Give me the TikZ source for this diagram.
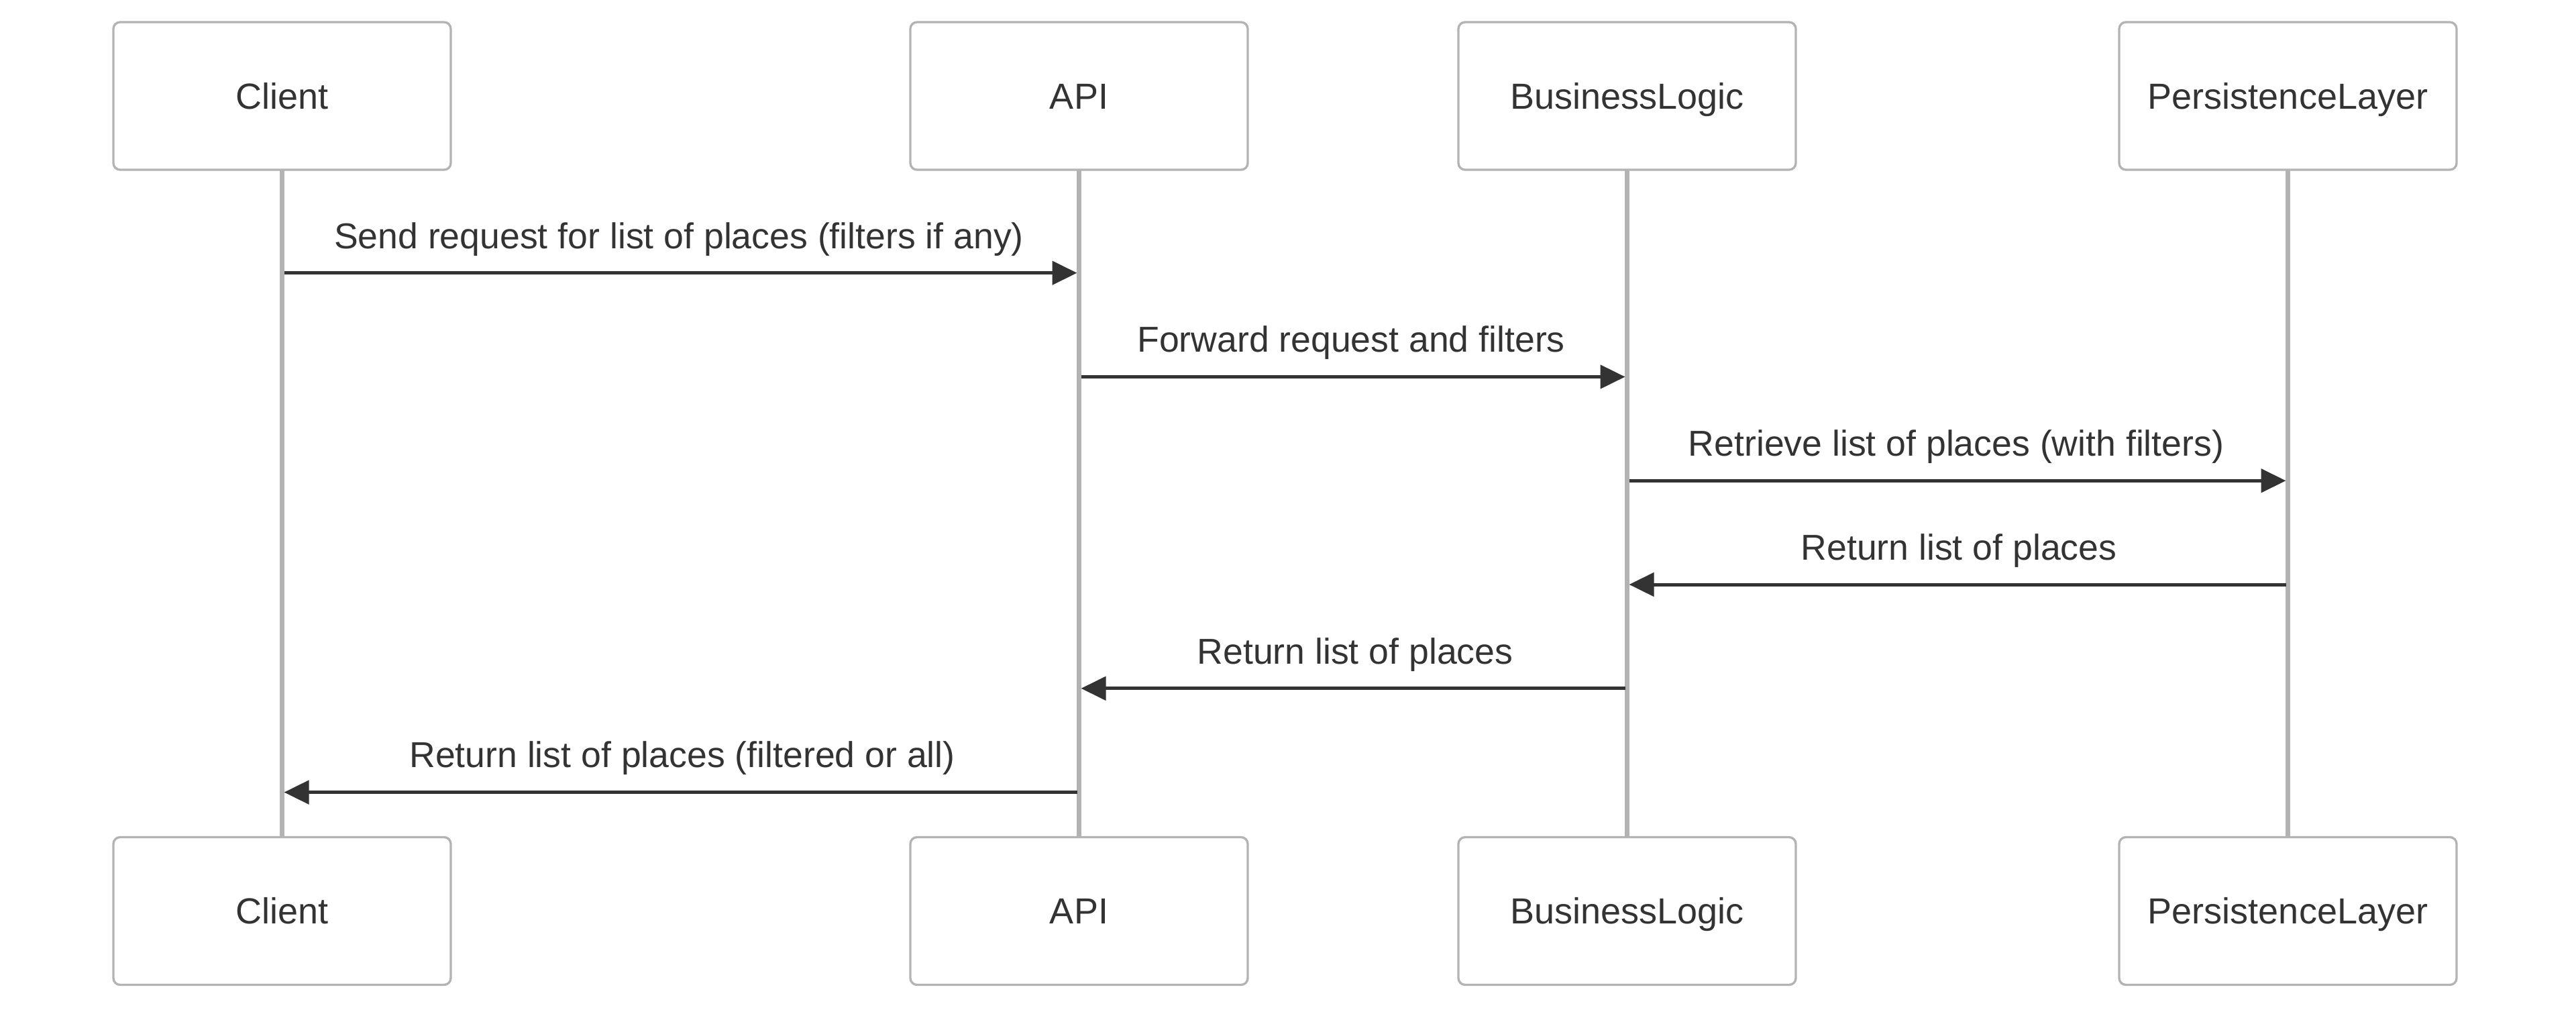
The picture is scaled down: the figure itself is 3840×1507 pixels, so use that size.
\documentclass[tikz,border=0pt]{standalone}
\usepackage{fontspec}
\setmainfont{Liberation Sans}
\usetikzlibrary{arrows.meta}
\definecolor{ink}{HTML}{333333}
\definecolor{edgegray}{HTML}{B3B3B3}
\begin{document}
\begin{tikzpicture}[x=0.2pt,y=-0.2pt,
  actor/.style={draw=edgegray, line width=0.66pt, fill=white, rounded corners=2pt,
    minimum width=100.6pt, minimum height=44pt, inner sep=0pt, outer sep=0pt,
    font=\fontsize{10.8}{13}\selectfont, text=ink, text height=7.73pt, text depth=0pt},
  life/.style={draw=edgegray, line width=1.3pt},
  msg/.style={draw=ink, line width=1pt, -{Triangle[length=7.4pt,width=7pt]}},
  lbl/.style={font=\fontsize{10.72}{13}\selectfont, text=ink, anchor=base, inner sep=0pt}]
\useasboundingbox (0,0) rectangle (3840,1507);
% actors top
\node[actor] (clT) at (420.5,143) {Client};
\node[actor] (apiT) at (1608.5,143) {API};
\node[actor] (blT) at (2425.5,143) {BusinessLogic};
\node[actor] (plT) at (3410.5,143) {PersistenceLayer};
% actors bottom
\node[actor] (clB) at (420.5,1357.5) {Client};
\node[actor] (apiB) at (1608.5,1357.5) {API};
\node[actor] (blB) at (2425.5,1357.5) {BusinessLogic};
\node[actor] (plB) at (3410.5,1357.5) {PersistenceLayer};
% lifelines
\draw[life] (clT.south) -- (clB.north);
\draw[life] (apiT.south) -- (apiB.north);
\draw[life] (blT.south) -- (blB.north);
\draw[life] (plT.south) -- (plB.north);
% message end points
\coordinate (m1a) at ([xshift=0.6pt]clT.south |- 0,406.7);
\coordinate (m1b) at ([xshift=-0.6pt]apiT.south |- 0,406.7);
\coordinate (m2a) at ([xshift=0.6pt]apiT.south |- 0,561.5);
\coordinate (m2b) at ([xshift=-0.6pt]blT.south |- 0,561.5);
\coordinate (m3a) at ([xshift=0.6pt]blT.south |- 0,716.3);
\coordinate (m3b) at ([xshift=-0.6pt]plT.south |- 0,716.3);
\coordinate (m4a) at ([xshift=-0.6pt]plT.south |- 0,871);
\coordinate (m4b) at ([xshift=0.6pt]blT.south |- 0,871);
\coordinate (m5a) at ([xshift=-0.6pt]blT.south |- 0,1025.8);
\coordinate (m5b) at ([xshift=0.6pt]apiT.south |- 0,1025.8);
\coordinate (m6a) at ([xshift=-0.6pt]apiT.south |- 0,1180.6);
\coordinate (m6b) at ([xshift=0.6pt]clT.south |- 0,1180.6);
% messages
\draw[msg] (m1a) -- (m1b);
\draw[msg] (m2a) -- (m2b);
\draw[msg] (m3a) -- (m3b);
\draw[msg] (m4a) -- (m4b);
\draw[msg] (m5a) -- (m5b);
\draw[msg] (m6a) -- (m6b);
% labels
\node[lbl] (t1) at (1012,370) {Send request for list of places (filters if any)};
\node[lbl] (t2) at (2014,524.8) {Forward request and filters};
\node[lbl] (t3) at (2916,679.6) {Retrieve list of places (with filters)};
\node[lbl] (t4) at (2920,834.3) {Return list of places};
\node[lbl] (t5) at (2020,989.1) {Return list of places};
\node[lbl] (t6) at (1017,1143.9) {Return list of places (filtered or all)};
\end{tikzpicture}
\end{document}
